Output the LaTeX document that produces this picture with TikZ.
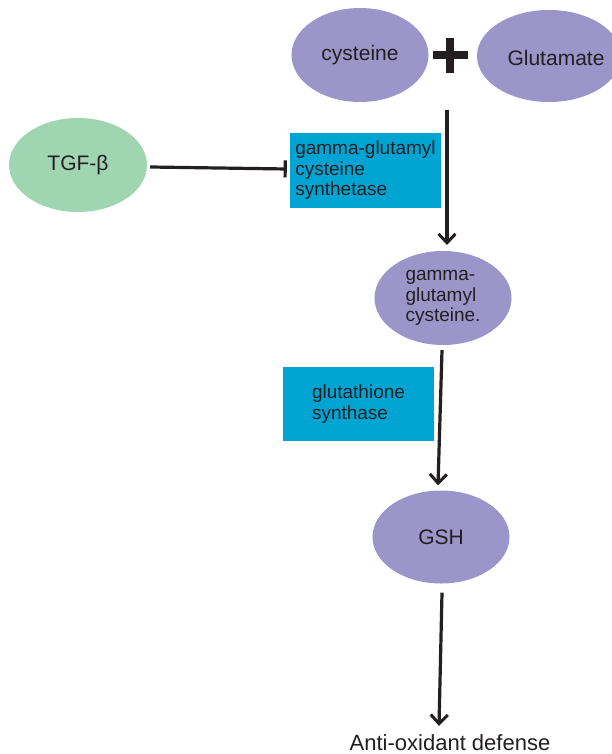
\documentclass[tikz,border=0pt]{standalone}
\usepackage{fontspec}
\setmainfont{Liberation Sans}
\usetikzlibrary{arrows.meta,shapes.geometric}
\definecolor{molc}{HTML}{9B95C9}
\definecolor{tgfc}{HTML}{9FD5B1}
\definecolor{enzc}{HTML}{00A4D3}
\definecolor{inkc}{HTML}{231F20}
\begin{document}
\begin{tikzpicture}[x=1pt,y=-1pt,
  mol/.style={ellipse,fill=molc,draw=none,minimum width=137pt,minimum height=94pt,inner sep=0pt,text=inkc,font=\fontsize{21}{24}\selectfont},
  small/.style={font=\fontsize{19}{20.5}\selectfont},
  enzbox/.style={rectangle,fill=enzc,draw=none,text=inkc,align=left,inner sep=0pt,font=\fontsize{19}{20.5}\selectfont},
  arr/.style={draw=inkc,line width=3.2pt,-{Straight Barb[length=9pt,width=17pt,line width=3pt]}},
  inh/.style={draw=inkc,line width=3.2pt,-{Bar[width=17pt,line width=3.2pt]}}]
\useasboundingbox (0,0) rectangle (611,754);
\fill[white] (0,0) rectangle (611,754);
% molecules
\node[mol] (cys) at (360,55) {cysteine};
\node[mol,minimum width=144pt,minimum height=92pt] (glu) at (549,56) {};
\node[text=inkc,font=\fontsize{21}{24}\selectfont,inner sep=0pt] (glutxt) at (556,58) {Glutamate};
\node[mol,fill=tgfc,minimum width=138pt] (tgf) at (78,165) {TGF-β};
\node[mol,small,align=left] (ggc) at (443,298) {gamma-\\glutamyl\\cysteine.};
\node[mol,minimum height=93pt] (gsh) at (441,537) {GSH};
% enzymes
\node[enzbox,minimum width=151pt,minimum height=75pt] (enz1) at (365.5,170.5) {gamma-glutamyl\\cysteine\\synthetase};
\node[enzbox,minimum width=151pt,minimum height=74pt] (enz2) at (358.5,404) {glutathione\\synthase};
% output text
\node[anchor=base,text=inkc,font=\fontsize{22}{25}\selectfont,inner sep=0pt] (aod) at (450,750) {Anti-oxidant defense};
% plus sign
\draw[inkc,line width=8pt] (433,54.7) -- (468,54.7);
\draw[inkc,line width=8pt] (450,38) -- (450,73);
% connectors
\coordinate (s1) at (447,110);
\coordinate (t1) at (447,245);
\draw[arr] (s1) -- (t1);
\draw[arr] ([xshift=-1pt,yshift=-5pt]ggc.south) -- ([xshift=-3pt,yshift=5pt]gsh.north);
\draw[arr] ([xshift=1pt,yshift=-9pt]gsh.south) -- ([xshift=-11pt,yshift=8pt]aod.north);
\draw[inh] ([xshift=3pt,yshift=-2pt]tgf.east) -- ([xshift=-3pt,yshift=1.5pt]enz1.west);
\end{tikzpicture}
\end{document}
